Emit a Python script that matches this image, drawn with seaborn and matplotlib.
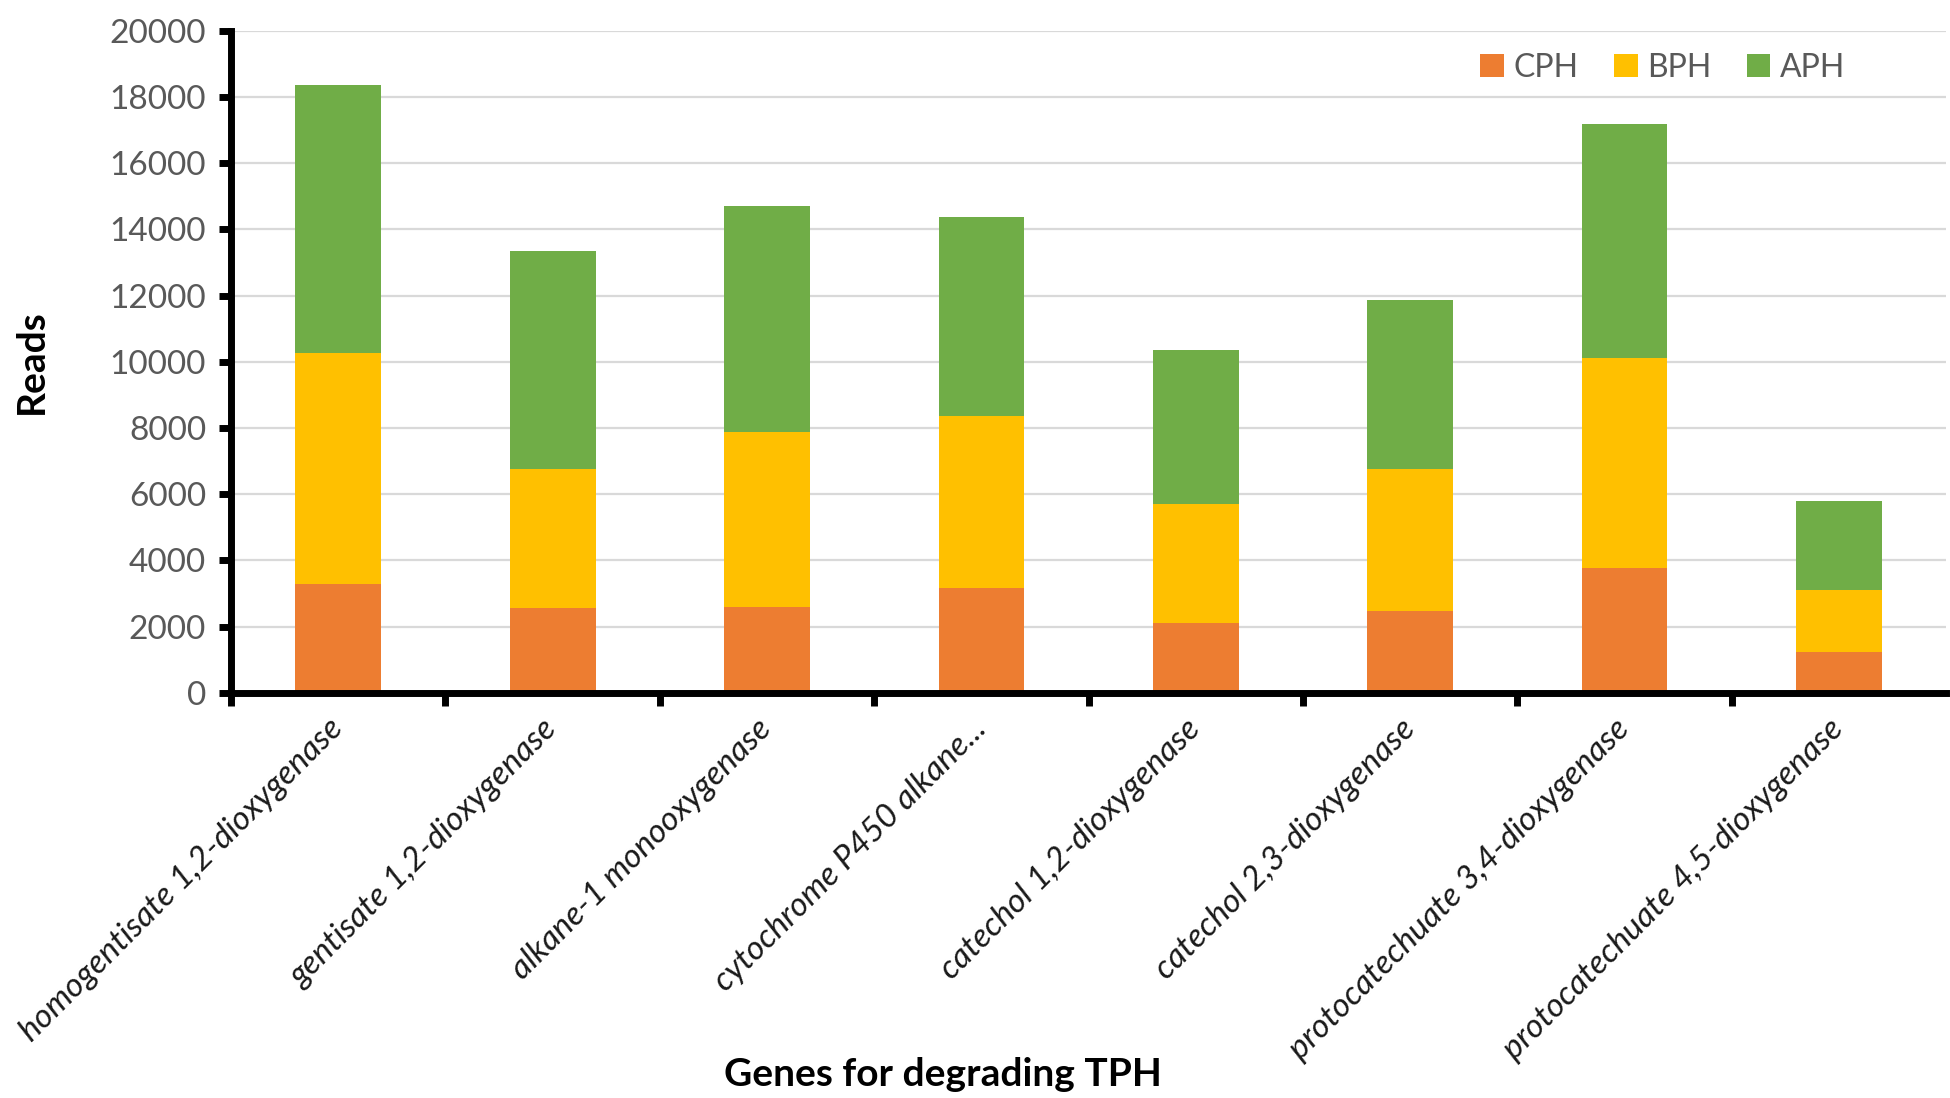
import matplotlib
matplotlib.use("Agg")
import matplotlib.pyplot as plt
import seaborn as sns
import pandas as pd
import numpy as np
from matplotlib.patches import Patch
from matplotlib.ticker import FixedLocator

genes = [
    "homogentisate 1,2-dioxygenase",
    "gentisate 1,2-dioxygenase",
    "alkane-1 monooxygenase",
    "cytochrome P450 alkane...",
    "catechol 1,2-dioxygenase",
    "catechol 2,3-dioxygenase",
    "protocatechuate 3,4-dioxygenase",
    "protocatechuate 4,5-dioxygenase",
]
cph = [3300, 2550, 2600, 3160, 2110, 2470, 3780, 1230]
bph = [6980, 4200, 5280, 5190, 3600, 4280, 6320, 1870]
aph = [8070, 6590, 6840, 6010, 4650, 5120, 7070, 2680]
series = ["CPH", "BPH", "APH"]
colors = {"CPH": "#ED7D31", "BPH": "#FFC000", "APH": "#70AD47"}

sns.set_theme(style="white")
plt.rcParams["font.family"] = ["Lato", "DejaVu Sans"]

df = pd.DataFrame({"gene": genes, "CPH": cph, "BPH": bph, "APH": aph})
df["c1"] = df["CPH"]
df["c2"] = df["CPH"] + df["BPH"]
df["c3"] = df["CPH"] + df["BPH"] + df["APH"]

fig = plt.figure(figsize=(19.5, 10.98), dpi=100)
ax = fig.add_axes([0.1185, 0.369, 0.8795, 0.603])

for col, s in [("c3", "APH"), ("c2", "BPH"), ("c1", "CPH")]:
    sns.barplot(data=df, x="gene", y=col, color=colors[s], width=0.4,
                saturation=1, ax=ax, zorder=3, edgecolor="none", linewidth=0)

ax.set_ylim(0, 20000)
ax.set_xlim(-0.5, len(genes) - 0.5)
ax.set_yticks(np.arange(0, 20001, 2000))
ax.yaxis.grid(True, color="#D9D9D9", linewidth=1.6, zorder=0)
ax.set_axisbelow(True)

for sp in ["top", "right"]:
    ax.spines[sp].set_visible(False)
for sp in ["left", "bottom"]:
    ax.spines[sp].set_linewidth(5)
    ax.spines[sp].set_color("black")
    ax.spines[sp].set_zorder(5)

ax.tick_params(axis="y", which="major", direction="out", length=9, width=5,
               color="black", labelsize=24, labelcolor="#595959", pad=9, left=True)
ax.tick_params(axis="x", which="major", length=0, pad=8)
ax.xaxis.set_minor_locator(FixedLocator(np.arange(-0.5, len(genes) - 0.4, 1.0)[:-1]))
ax.tick_params(axis="x", which="minor", direction="out", length=9, width=5,
               color="black", bottom=True)

ax.set_xticks(range(len(genes)))
ax.set_xticklabels(genes, rotation=45, ha="right", va="center",
                   rotation_mode="anchor", fontsize=24, style="italic",
                   color="#1a1a1a")
for lbl in ax.get_xticklabels():
    lbl.set_y(-0.03)

ax.set_xlabel("Genes for degrading TPH", fontsize=28, fontweight="bold",
              color="black")
ax.xaxis.set_label_coords(0.415, -0.55)
ax.set_ylabel("Reads", fontsize=28, fontweight="bold", color="black")
ax.yaxis.set_label_coords(-0.106, 0.5)

handles = [Patch(facecolor=colors[s], edgecolor="none", label=s) for s in series]
leg = ax.legend(handles=handles, loc="upper right", ncol=3, frameon=False,
                bbox_to_anchor=(0.958, 1.01), fontsize=23, handlelength=0.75,
                handleheight=0.75, handletextpad=0.3, columnspacing=1.1)
for t in leg.get_texts():
    t.set_color("#595959")

fig.savefig("out.png", dpi=100, facecolor="white")
